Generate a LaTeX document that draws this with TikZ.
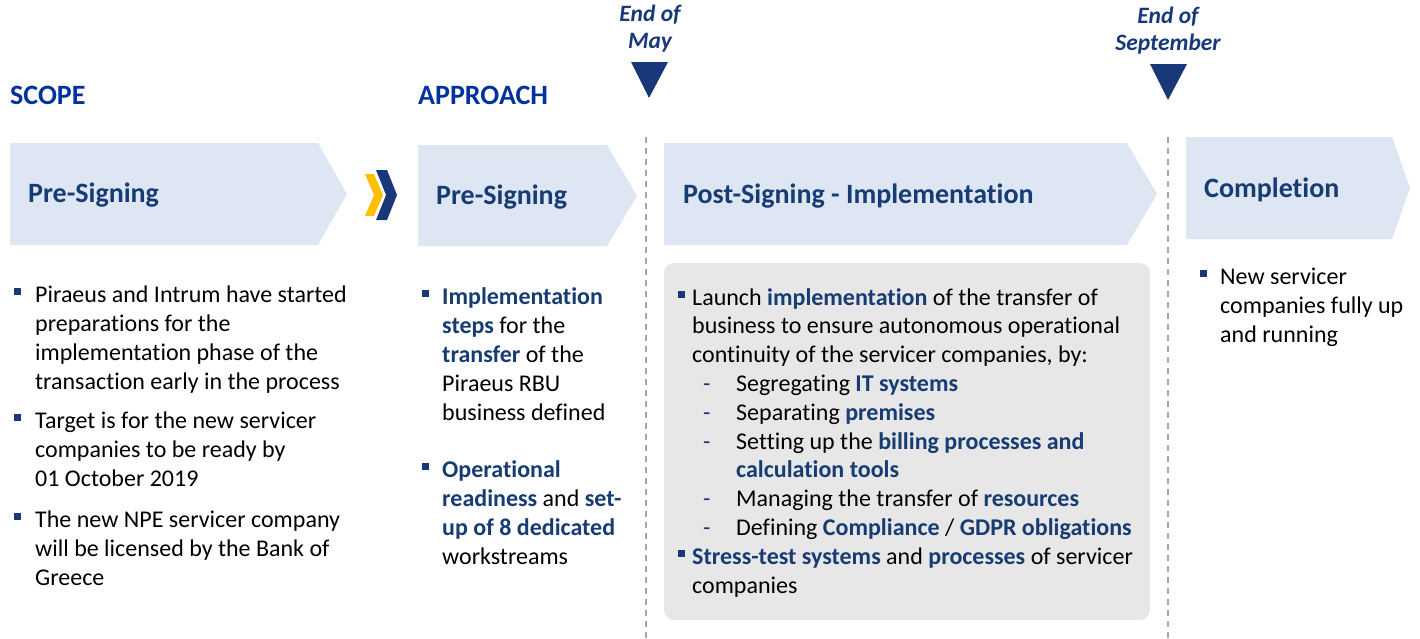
\documentclass[tikz,border=0pt]{standalone}
\usepackage{fontspec}
\setmainfont{Carlito}[Ligatures=NoCommon]
\usetikzlibrary{positioning}
\definecolor{navy}{RGB}{24,56,122}
\definecolor{textnavy}{RGB}{22,60,115}
\definecolor{scopeblue}{RGB}{0,50,158}
\definecolor{phasefill}{RGB}{221,230,242}
\definecolor{boxgray}{RGB}{231,231,231}
\definecolor{gold}{RGB}{255,192,0}
\newcommand{\hl}[1]{\textbf{\textcolor{textnavy}{#1}}}
\newcommand{\bsq}{\textcolor{navy}{\rule[0.3em]{0.29em}{0.29em}}}
\newcommand{\subdash}{\makebox[44pt][l]{\hspace{11pt}\textcolor{navy}{-}}}
\tikzstyle{phase}=[fill=phasefill]
\tikzstyle{heading}=[anchor=west,inner sep=0pt,text=textnavy,font=\fontsize{28}{32}\selectfont\bfseries]
\tikzstyle{bodytext}=[anchor=base west,inner sep=0pt,align=left,font=\fontsize{24}{29}\selectfont]

\begin{document}
\begin{tikzpicture}[x=1pt,y=-1pt]
    \useasboundingbox (0,0) rectangle (1420,638);
    \tikzstyle{marker}=[align=center,inner sep=0pt,text=navy,font=\fontsize{23.5}{27}\selectfont\bfseries\itshape]
    \tikzstyle{milestone}=[draw=black!35,line width=1.5pt,dash pattern=on 6pt off 5pt]
    % phase arrows
    \fill[phase] (10,143) -- (318,143) -- (347,194) -- (318,245) -- (10,245) -- cycle;
    \fill[phase] (418,145) -- (607,145) -- (637,196) -- (607,246) -- (418,246) -- cycle;
    \fill[phase] (664,143) -- (1127,143) -- (1157,194) -- (1127,245) -- (664,245) -- cycle;
    \fill[phase] (1186,137) -- (1392,137) -- (1410,188) -- (1392,239) -- (1186,239) -- cycle;
    % double chevron
    \fill[gold] (365,174) -- (374,174) -- (383,195) -- (374,216) -- (365,216) -- (374,195) -- cycle;
    \fill[navy] (376,170) -- (387,170) -- (397,195) -- (387,220) -- (376,220) -- (386,195) -- cycle;
    % milestones
    \node[marker] (may) at (650,29) {End of\\May};
    \node[marker] (sep) at (1168,31) {End of\\September};
    \fill[navy] (631,62) -- (668,62) -- (649,98) -- cycle;
    \fill[navy] (1150,64) -- (1187,64) -- (1168,100) -- cycle;
    \coordinate (may top) at (646,137);
    \coordinate (may end) at (646,638);
    \coordinate (sep top) at (1168,137);
    \coordinate (sep end) at (1168,638);
    \draw[milestone] (may top) -- (may end);
    \draw[milestone] (sep top) -- (sep end);
    % gray box
    \fill[boxgray,rounded corners=10pt] (664,263) rectangle (1150,620);
    % headings
    \node[heading,text=scopeblue] (scope) at (10,95) {SCOPE};
    \node[heading,text=scopeblue] (approach) at (418,95) {APPROACH};
    \node[heading] (pre1) at (28,195) {Pre-Signing};
    \node[heading] (pre2) at (436,197) {Pre-Signing};
    \node[heading] (post) at (683,196) {Post-Signing - Implementation};
    \node[heading] (compl) at (1204,190) {Completion};
    % scope text (placed at baseline of last line)
    \node[bodytext] (s1) at (35,389) {\llap{\bsq\hspace{14pt}}Piraeus and Intrum have started\\preparations for the\\implementation phase of the\\transaction early in the process};
    \node[bodytext] (s2) at (35,486) {\llap{\bsq\hspace{14pt}}Target is for the new servicer\\companies to be ready by\\01 October 2019};
    \node[bodytext] (s3) at (35,585) {\llap{\bsq\hspace{14pt}}The new NPE servicer company\\will be licensed by the Bank of\\Greece};
    % approach text
    \node[bodytext] (a1) at (442,420) {\llap{\bsq\hspace{13pt}}\hl{Implementation}\\\hl{steps} for the\\\hl{transfer} of the\\Piraeus RBU\\business defined};
    \node[bodytext] (a2) at (442,564) {\llap{\bsq\hspace{13pt}}\hl{Operational}\\\hl{readiness} and \hl{set-}\\\hl{up of 8 dedicated}\\workstreams};
    \node[bodytext,font=\fontsize{24}{28.8}\selectfont] (impl) at (692,593) {\llap{\bsq\hspace{7pt}}Launch \hl{implementation} of the transfer of\\business to ensure autonomous operational\\continuity of the servicer companies, by:\\
      \subdash Segregating \hl{IT systems}\\
      \subdash Separating \hl{premises}\\
      \subdash Setting up the \hl{billing processes and}\\
      \hspace*{44pt}\hl{calculation tools}\\
      \subdash Managing the transfer of \hl{resources}\\
      \subdash Defining \hl{Compliance} / \hl{GDPR obligations}\\
      \llap{\bsq\hspace{7pt}}\hl{Stress-test systems} and \hl{processes} of servicer\\companies};
    \node[bodytext] (c1) at (1220,342) {\llap{\bsq\hspace{13pt}}New servicer\\companies fully up\\and running};
  \end{tikzpicture}
\end{document}
